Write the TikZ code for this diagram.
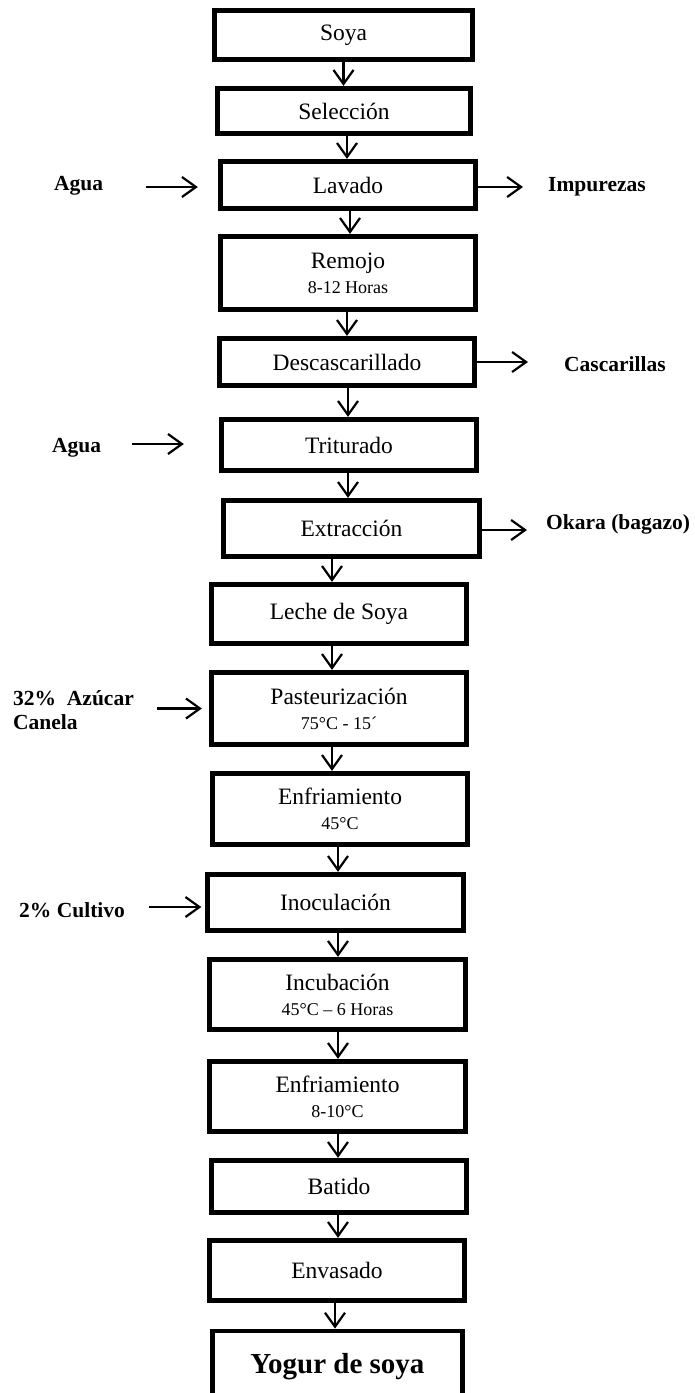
\documentclass[tikz,border=0pt]{standalone}
\usepackage{fontspec}
\setmainfont{Liberation Serif}
\usepackage{tikz}
\usetikzlibrary{arrows.meta,positioning,calc}
\tikzset{
  paso/.style={draw=black,line width=4.8pt,fill=white,align=center,font=\fontsize{23.5}{25}\selectfont,minimum width=255.5pt,inner sep=2pt},
  final/.style={paso,font=\bfseries\fontsize{29}{32}\selectfont},
  lado/.style={font=\bfseries\fontsize{21.5}{24}\selectfont,align=left,inner sep=0pt,anchor=west},
  arr/.style={-{Straight Barb[length=14pt,width=20pt]},line width=2.2pt,draw=black},
}
\newcommand{\detalle}[1]{{\fontsize{18}{20}\selectfont #1}}

\begin{document}
\begin{tikzpicture}[x=1pt,y=-1pt]
  \useasboundingbox (0,0) rectangle (694,1393);
  \clip (0,0) rectangle (694,1393);
  \node[paso,minimum width=258.5pt,minimum height=49.5pt] (soya) at (343.5,35) {Soya};
  \node[paso,minimum width=253.5pt,minimum height=45.5pt] (seleccion) at (344,111) {Selección};
  \node[paso,minimum height=47.5pt] (lavado) at (348,185) {Lavado};
  \node[paso,minimum height=73.5pt] (remojo) at (348,273) {Remojo\\\detalle{8-12 Horas}};
  \node[paso,minimum height=47.5pt] (descas) at (347,362) {Descascarillado};
  \node[paso,minimum height=51.5pt] (triturado) at (349,445) {Triturado};
  \node[paso,minimum height=56.5pt] (extraccion) at (351.5,528.5) {Extracción};
  \node[paso,minimum height=59.5pt] (leche) at (339,614) {Leche de Soya};
  \node[paso,minimum height=72.5pt] (pasteur) at (339,708.5) {Pasteurización\\\detalle{75°C - 15´}};
  \node[paso,minimum height=71.5pt] (enfria1) at (340,809) {Enfriamiento\\\detalle{45°C}};
  \node[paso,minimum height=56.5pt] (inocula) at (335.5,902.5) {Inoculación};
  \node[paso,minimum height=70.5pt] (incuba) at (337.5,994.5) {Incubación\\\detalle{45°C – 6 Horas}};
  \node[paso,minimum height=70.5pt] (enfria2) at (337.5,1096.5) {Enfriamiento\\\detalle{8-10°C}};
  \node[paso,minimum height=52.5pt] (batido) at (339,1186.5) {Batido};
  \node[paso,minimum height=60.5pt] (envasado) at (337,1270.5) {Envasado};
  \node[final,minimum width=250.5pt,minimum height=72pt] (yogur) at (337.5,1367) {Yogur de soya};

  \node[lado] (agua1) at (54,186) {Agua};
  \node[lado] (impurezas) at (548,187) {Impurezas};
  \node[lado] (cascarillas) at (564,364) {Cascarillas};
  \node[lado] (agua2) at (52,448) {Agua};
  \node[lado] (okara) at (546,524) {Okara (bagazo)};
  \node[lado] (azucar) at (13,710) {32\%\ \ Azúcar\\Canela};
  \node[lado] (cultivo) at (19,910) {2\% Cultivo};

  \draw[arr] (soya.south) -- (soya.south |- seleccion.north);
  \draw[arr] ([xshift=3pt]seleccion.south) -- ([xshift=3pt]seleccion.south |- lavado.north);
  \draw[arr] ([xshift=2pt]lavado.south) -- ([xshift=2pt]lavado.south |- remojo.north);
  \draw[arr] ([xshift=-1pt]remojo.south) -- ([xshift=-1pt]remojo.south |- descas.north);
  \draw[arr] ([xshift=1pt]descas.south) -- ([xshift=1pt]descas.south |- triturado.north);
  \draw[arr] ([xshift=-1pt]triturado.south) -- ([xshift=-1pt]triturado.south |- extraccion.north);
  \draw[arr] ([xshift=-19.5pt]extraccion.south) -- ([xshift=-19.5pt]extraccion.south |- leche.north);
  \draw[arr] ([xshift=-7pt]leche.south) -- ([xshift=-7pt]leche.south |- pasteur.north);
  \draw[arr] ([xshift=-7pt]pasteur.south) -- ([xshift=-7pt]pasteur.south |- enfria1.north);
  \draw[arr] ([xshift=-2pt]enfria1.south) -- ([xshift=-2pt]enfria1.south |- inocula.north);
  \draw[arr] ([xshift=2.5pt]inocula.south) -- ([xshift=2.5pt]inocula.south |- incuba.north);
  \draw[arr] ([xshift=0.5pt]incuba.south) -- ([xshift=0.5pt]incuba.south |- enfria2.north);
  \draw[arr] ([xshift=0.5pt]enfria2.south) -- ([xshift=0.5pt]enfria2.south |- batido.north);
  \draw[arr] ([xshift=-1pt]batido.south) -- ([xshift=-1pt]batido.south |- envasado.north);
  \draw[arr] ([xshift=-2pt]envasado.south) -- ([xshift=-2pt]envasado.south |- yogur.north);

  \draw[arr,shorten <=43pt,shorten >=20pt] ([yshift=-1pt]agua1.east) -- ([yshift=-1pt]agua1.east -| lavado.west);
  \draw[arr,shorten >=25pt] (lavado.east |- impurezas) -- (impurezas.west);
  \draw[arr,shorten >=36pt] (descas.east) -- (descas.east -| cascarillas.west);
  \draw[arr,shorten <=31pt,shorten >=35pt] ([yshift=4pt]agua2.east) -- ([yshift=4pt]agua2.east -| triturado.west);
  \draw[arr,shorten >=19pt] ([yshift=-6pt]okara.west -| extraccion.east) -- ([yshift=-6pt]okara.west);
  \draw[arr,shorten <=23pt,shorten >=7pt] (azucar.east |- pasteur) -- (pasteur.west);
  \draw[arr,shorten <=24pt,shorten >=4pt] ([yshift=3pt]cultivo.east) -- ([yshift=3pt]cultivo.east -| inocula.west);
\end{tikzpicture}
\end{document}
